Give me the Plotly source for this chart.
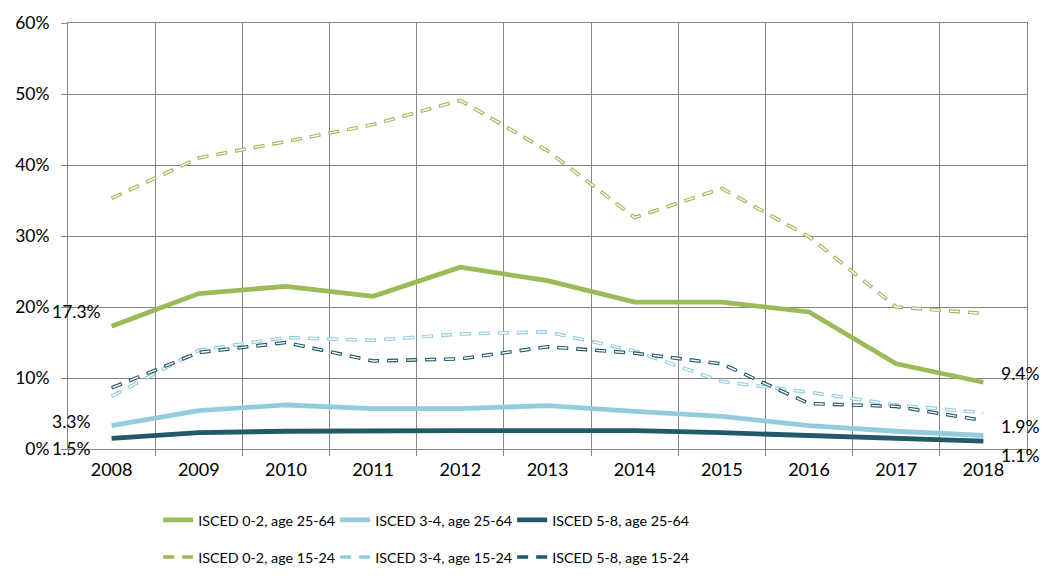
import plotly.graph_objects as go

years = ["2008", "2009", "2010", "2011", "2012", "2013", "2014", "2015", "2016", "2017", "2018"]

isced02_2564 = [17.3, 21.9, 22.9, 21.5, 25.6, 23.7, 20.7, 20.7, 19.3, 12.0, 9.4]
isced34_2564 = [3.3, 5.4, 6.2, 5.7, 5.7, 6.1, 5.3, 4.6, 3.3, 2.5, 1.9]
isced58_2564 = [1.5, 2.3, 2.5, 2.6, 2.6, 2.6, 2.6, 2.3, 1.9, 1.5, 1.1]
isced02_1524 = [35.3, 41.0, 43.3, 45.7, 49.1, 42.0, 32.6, 36.7, 29.9, 20.0, 19.1]
isced34_1524 = [7.4, 13.9, 15.7, 15.3, 16.2, 16.5, 13.8, 9.5, 8.0, 6.2, 5.1]
isced58_1524 = [8.6, 13.6, 15.0, 12.4, 12.7, 14.4, 13.5, 12.0, 6.4, 6.0, 4.0]

GREEN = "#9BBB59"
LIGHT = "#93CDDD"
DARK = "#215968"
GRID = "#868686"
FONT = "Lato"

fig = go.Figure()

solid = [
    ("ISCED 0-2, age 25-64", isced02_2564, GREEN),
    ("ISCED 3-4, age 25-64", isced34_2564, LIGHT),
    ("ISCED 5-8, age 25-64", isced58_2564, DARK),
]
dashed = [
    ("ISCED 0-2, age 15-24", isced02_1524, GREEN),
    ("ISCED 3-4, age 15-24", isced34_1524, LIGHT),
    ("ISCED 5-8, age 15-24", isced58_1524, DARK),
]

for name, vals, col in solid:
    fig.add_trace(go.Scatter(x=years, y=vals, mode="lines", name=name,
                             line=dict(color=col, width=4.8), legend="legend"))

for name, vals, col in dashed:
    fig.add_trace(go.Scatter(x=years, y=vals, mode="lines", name=name,
                             line=dict(color=col, width=3.6, dash="11px,8px"),
                             legend="legend2"))
    fig.add_trace(go.Scatter(x=years, y=vals, mode="lines", name=name,
                             line=dict(color="white", width=1.4, dash="0px,1px,9px,9px"),
                             showlegend=False, hoverinfo="skip"))

# data labels at the ends of the solid series
first, last = 0, len(years) - 1
left_shift = [15, 4, -10]
right_shift = [9, 9, -14]
for (name, vals, col), ls, rs in zip(solid, left_shift, right_shift):
    fig.add_annotation(x=first, y=vals[first], text=f"{vals[first]:.1f}%", showarrow=False,
                       xref="x", yref="y", xanchor="left", xshift=-62, yshift=ls,
                       font=dict(family=FONT, size=17.5, color="#000000"))
    fig.add_annotation(x=last, y=vals[last], text=f"{vals[last]:.1f}%", showarrow=False,
                       xref="x", yref="y", xanchor="left", xshift=16, yshift=rs,
                       font=dict(family=FONT, size=17.5, color="#000000"))

fig.update_layout(
    width=1050, height=586,
    margin=dict(l=60, r=31, t=15, b=145),
    paper_bgcolor="white", plot_bgcolor="white",
    font=dict(family=FONT, size=17.5, color="#000000"),
    legend=dict(orientation="h", x=0.094, xanchor="left", y=-0.167, yanchor="middle",
                entrywidth=132, entrywidthmode="pixels",
                font=dict(family=FONT, size=14.3),
                bgcolor="rgba(0,0,0,0)"),
    legend2=dict(orientation="h", x=0.094, xanchor="left", y=-0.254, yanchor="middle",
                 entrywidth=132, entrywidthmode="pixels",
                 font=dict(family=FONT, size=14.3),
                 bgcolor="rgba(0,0,0,0)"),
)

fig.update_xaxes(type="category", tickson="boundaries", showgrid=True, gridcolor=GRID,
                 gridwidth=1, showline=True, linecolor=GRID, linewidth=1, mirror=True,
                 ticks="outside", ticklen=6, tickcolor=GRID, tickfont=dict(size=18),
                 ticklabelstandoff=4, range=[-0.5, 10.5], automargin=False)
fig.update_yaxes(range=[0, 60], dtick=10, ticksuffix="%", showgrid=True, gridcolor=GRID,
                 gridwidth=1, showline=True, linecolor=GRID, linewidth=1, mirror=True,
                 ticks="outside", ticklen=6, tickcolor=GRID, tickfont=dict(size=17.5),
                 zeroline=False, ticklabelstandoff=8, automargin=False)

fig.write_html("out.html")
